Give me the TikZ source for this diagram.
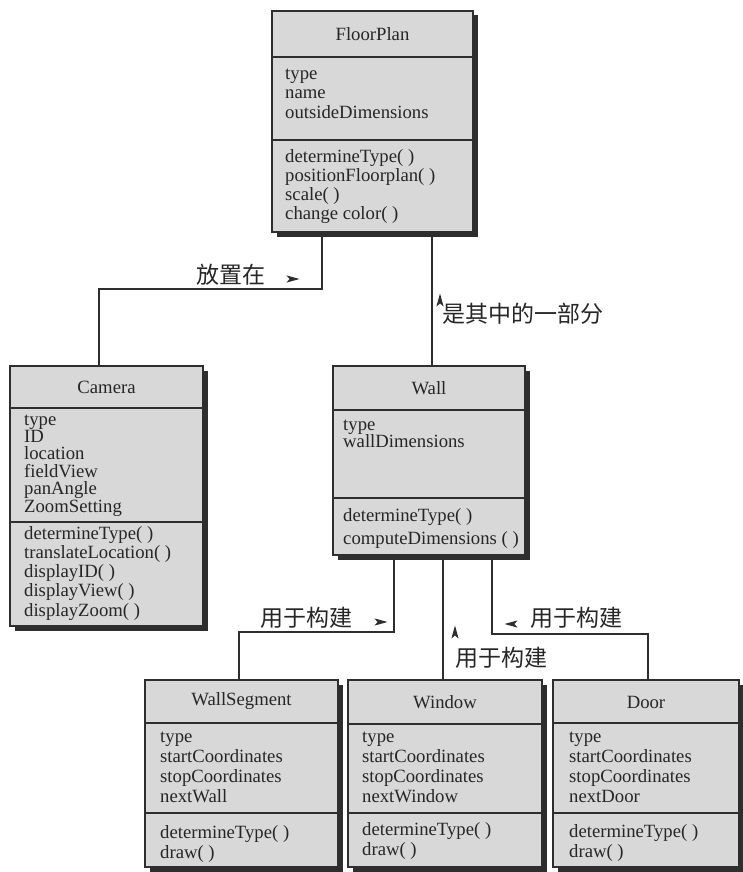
\documentclass[tikz,border=0pt]{standalone}
\usepackage{fontspec}
\setmainfont{Liberation Serif}
\newfontfamily\cjk{Noto Sans CJK SC}
\usetikzlibrary{shadows}
\definecolor{ink}{HTML}{2E2E2E}
\definecolor{boxfill}{HTML}{D8D8D8}
\definecolor{txt}{HTML}{262626}
\tikzset{
 umlbox/.style={draw=ink, line width=2.2pt, fill=boxfill, inner sep=0pt, outer sep=0pt,
   drop shadow={shadow xshift=4.5pt, shadow yshift=-4.5pt, opacity=1, fill=ink}},
 sepline/.style={draw=ink, line width=2.6pt},
 titletext/.style={font=\fontsize{18.7}{20}\selectfont, text=txt, inner sep=0pt},
 rowtext/.style={font=\fontsize{18.7}{20}\selectfont, text=txt, inner sep=0pt, anchor=base west},
 conn/.style={draw=ink, line width=2.2pt},
 cnlabel/.style={font=\cjk\fontsize{23}{26}\selectfont, text=txt, inner sep=0pt},
 tipfill/.style={fill=ink},
}
\newcommand\umlrows[5]{\foreach \t [count=\i from 0] in {#5} {\node[rowtext] (#1-\i) at (#2,{#3+\i*#4}) {\t};}}
\newcommand\tipright[2]{\fill[tipfill] ({#1-6.5},{#2-3.6}) -- ({#1+6.5},#2) -- ({#1-6.5},{#2+3.6}) -- ({#1-3.5},#2) -- cycle;}
\newcommand\tipleft[2]{\fill[tipfill] ({#1+6.5},{#2-3.6}) -- ({#1-6.5},#2) -- ({#1+6.5},{#2+3.6}) -- ({#1+3.5},#2) -- cycle;}
\newcommand\tipup[2]{\fill[tipfill] ({#1-3.6},{#2+6.5}) -- (#1,{#2-6.5}) -- ({#1+3.6},{#2+6.5}) -- (#1,{#2+3.5}) -- cycle;}
\begin{document}
\begin{tikzpicture}[x=1pt,y=-1pt]
\useasboundingbox (0,0) rectangle (743,872);

% connector bend points
\coordinate (c1) at (322,289); \coordinate (c2) at (99,289);
\coordinate (p1) at (432,300);
\coordinate (d1) at (394,632); \coordinate (d2) at (239,632);
\coordinate (m1) at (443,640);
\coordinate (e1) at (492,634); \coordinate (e2) at (648,634);

% boxes
\node[umlbox, minimum width=201pt, minimum height=221pt] (fp) at (372.5,121.5) {};
\node[umlbox, minimum width=193pt, minimum height=260pt] (cam) at (106.5,496) {};
\node[umlbox, minimum width=192pt, minimum height=189pt] (wall) at (429,460.5) {};
\node[umlbox, minimum width=193pt, minimum height=187pt] (ws) at (241.5,773.5) {};
\node[umlbox, minimum width=194pt, minimum height=187pt] (win) at (445,773.5) {};
\node[umlbox, minimum width=186pt, minimum height=187pt] (door) at (646,773.5) {};

% connectors
\draw[conn] (fp.south -| c1) -- (c1) -- (c2) -- (cam.north -| c2);
\draw[conn] (fp.south -| p1) -- (wall.north -| p1);
\draw[conn] (wall.south -| d1) -- (d1) -- (d2) -- (ws.north -| d2);
\draw[conn] (wall.south -| m1) -- (win.north -| m1);
\draw[conn] (wall.south -| e1) -- (e1) -- (e2) -- (door.north -| e2);

% separators
\draw[sepline] (fp.west |- 0,57) -- (fp.east |- 0,57);
\draw[sepline] (fp.west |- 0,140) -- (fp.east |- 0,140);
\draw[sepline] (cam.west |- 0,408) -- (cam.east |- 0,408);
\draw[sepline] (cam.west |- 0,522) -- (cam.east |- 0,522);
\draw[sepline] (wall.west |- 0,410) -- (wall.east |- 0,410);
\draw[sepline] (wall.west |- 0,498) -- (wall.east |- 0,498);
\draw[sepline] (ws.west |- 0,723) -- (ws.east |- 0,723);
\draw[sepline] (ws.west |- 0,813) -- (ws.east |- 0,813);
\draw[sepline] (win.west |- 0,724) -- (win.east |- 0,724);
\draw[sepline] (win.west |- 0,813) -- (win.east |- 0,813);
\draw[sepline] (door.west |- 0,723) -- (door.east |- 0,723);
\draw[sepline] (door.west |- 0,813) -- (door.east |- 0,813);

% titles
\node[titletext] (fpt) at (372.5,34) {FloorPlan};
\node[titletext] (camt) at (106.5,387) {Camera};
\node[titletext] (wallt) at (429,388) {Wall};
\node[titletext] (wst) at (241.5,701) {WallSegment};
\node[titletext] (wint) at (445,702) {Window};
\node[titletext] (doort) at (646,702) {Door};

% rows
\umlrows{fpa}{285}{80}{19}{type, name, outsideDimensions}
\umlrows{fpm}{285}{162}{19.3}{determineType( ), positionFloorplan( ), scale( ), change color( )}
\umlrows{cama}{24}{425}{17.4}{type, ID, location, fieldView, panAngle, ZoomSetting}
\umlrows{camm}{24}{539}{19.3}{determineType( ), translateLocation( ), displayID( ), displayView( ), displayZoom( )}
\umlrows{walla}{343}{430}{17}{type, wallDimensions}
\umlrows{wallm}{343}{521}{23}{determineType( ), computeDimensions ( )}
\umlrows{wsa}{160}{742}{20.3}{type, startCoordinates, stopCoordinates, nextWall}
\umlrows{wsm}{160}{838}{20}{determineType( ), draw( )}
\umlrows{wina}{362}{742}{20.3}{type, startCoordinates, stopCoordinates, nextWindow}
\umlrows{winm}{362}{835}{20}{determineType( ), draw( )}
\umlrows{doora}{569}{742}{20.3}{type, startCoordinates, stopCoordinates, nextDoor}
\umlrows{doorm}{569}{837}{20}{determineType( ), draw( )}

% labels
\node[cnlabel] (l1) at (231,275) {放置在};
\tipright{293}{279}
\node[cnlabel] (l2) at (523,314) {是其中的一部分};
\tipup{440}{300}
\node[cnlabel] (l3) at (306,618) {用于构建};
\tipright{381}{622}
\node[cnlabel] (l4) at (501,658) {用于构建};
\tipup{455}{632}
\node[cnlabel] (l5) at (576,618) {用于构建};
\tipleft{511}{624}
\end{tikzpicture}
\end{document}
